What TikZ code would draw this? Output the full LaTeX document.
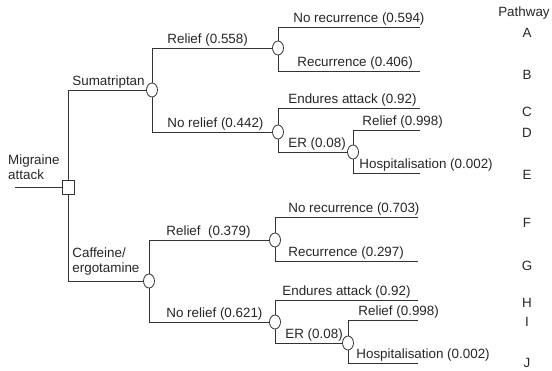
\documentclass[tikz,border=0pt]{standalone}
\usepackage{fontspec}
\setmainfont{Liberation Sans}
\usetikzlibrary{positioning, shapes.geometric}

\begin{document}
\begin{tikzpicture}[
  x=1pt, y=-1pt,
  font=\fontsize{13.4}{15.5}\selectfont,
  decision/.style={draw, rectangle, minimum width=12pt, minimum height=14pt, inner sep=0pt,
                fill=white, line width=0.8pt, draw=black!80},
  chance/.style={draw, ellipse, minimum width=11pt, minimum height=14pt, inner sep=0pt,
                fill=white, line width=0.8pt, draw=black!80},
  branch/.style={line width=0.8pt, color=black!80},
  lbl/.style={text=black!85, inner sep=1pt, anchor=south west, pos=0.5},
  path/.style={text=black!85, inner sep=0pt},
]
\useasboundingbox (0,0) rectangle (552,370);

% Root
\coordinate (in) at (15,187);
\node[decision] (sq) at (68,187) {};
\node[text=black!85, align=left, anchor=south west, inner sep=1pt] (mig) at (7,181) {Migraine\\attack};

% Treatment choices
\node[chance] (s) at (152,90) {};
\node[chance] (c) at (149,281) {};

% Sumatriptan arm
\node[chance] (r1) at (278,48) {};
\node[chance] (nr1) at (278,132) {};
\node[chance] (er1) at (353,152) {};

% Caffeine/ergotamine arm
\node[chance] (r2) at (275,240) {};
\node[chance] (nr2) at (275,322) {};
\node[chance] (er2) at (348,343) {};

% End points
\coordinate (pa) at (420,27);
\coordinate (pb) at (420,71);
\coordinate (pc) at (420,108);
\coordinate (pd) at (420,130);
\coordinate (pe) at (420,173);
\coordinate (pf) at (418,217);
\coordinate (pg) at (418,261);
\coordinate (ph) at (418,300);
\coordinate (pi) at (418,320);
\coordinate (pj) at (418,363);

% Branches
\draw[branch] (in) -- (sq);
\draw[branch] (sq) |- node[lbl, xshift=3pt] (ls) {Sumatriptan} (s);
\draw[branch] (sq) |- node[lbl, align=left, xshift=3pt, yshift=4pt] (lc) {Caffeine/\\ergotamine} (c);

\draw[branch] (s) |- node[lbl, xshift=14pt] (lr1) {Relief (0.558)} (r1);
\draw[branch] (s) |- node[lbl, xshift=14pt] (lnr1) {No relief (0.442)} (nr1);
\draw[branch] (r1) |- node[lbl, xshift=14pt] (la) {No recurrence (0.594)} (pa);
\draw[branch] (r1) |- node[lbl, xshift=18pt] (lb) {Recurrence (0.406)} (pb);
\draw[branch] (nr1) |- node[lbl, xshift=9pt] (lcc) {Endures attack (0.92)} (pc);
\draw[branch] (nr1) |- node[lbl, xshift=9pt] (ler1) {ER (0.08)} (er1);
\draw[branch] (er1) |- node[lbl, xshift=8pt] (ld) {Relief (0.998)} (pd);
\draw[branch] (er1) |- node[lbl, xshift=5pt] (le) {Hospitalisation (0.002)} (pe);

\draw[branch] (c) |- node[lbl, xshift=16pt] (lr2) {Relief~ (0.379)} (r2);
\draw[branch] (c) |- node[lbl, xshift=16pt] (lnr2) {No relief (0.621)} (nr2);
\draw[branch] (r2) |- node[lbl, xshift=12pt] (lf) {No recurrence (0.703)} (pf);
\draw[branch] (r2) |- node[lbl, xshift=12pt] (lg) {Recurrence (0.297)} (pg);
\draw[branch] (nr2) |- node[lbl, xshift=6pt] (lh) {Endures attack (0.92)} (ph);
\draw[branch] (nr2) |- node[lbl, xshift=9pt] (ler2) {ER (0.08)} (er2);
\draw[branch] (er2) |- node[lbl, xshift=9pt] (li) {Relief (0.998)} (pi);
\draw[branch] (er2) |- node[lbl, xshift=7pt] (lj) {Hospitalisation (0.002)} (pj);

% Pathway column
\node[path] (ptitle) at (524,13) {Pathway};
\node[path] (ta) at (527,33) {A};
\node[path] (tb) at (527,75) {B};
\node[path] (tc) at (527,112) {C};
\node[path] (td) at (527,133) {D};
\node[path] (te) at (527,175) {E};
\node[path] (tf) at (527,223) {F};
\node[path] (tg) at (527,266) {G};
\node[path] (th) at (527,303) {H};
\node[path] (ti) at (527,322) {I};
\node[path] (tj) at (527,363) {J};

\end{tikzpicture}
\end{document}
